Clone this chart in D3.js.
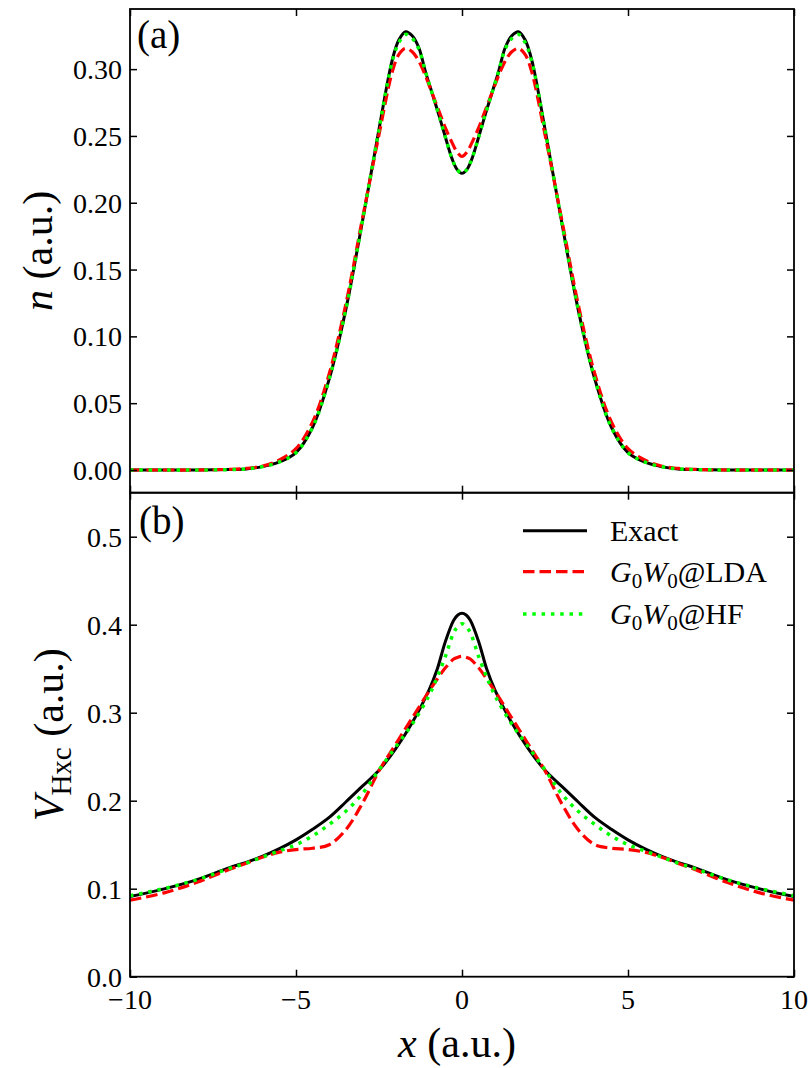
<!DOCTYPE html>
<html>
<head>
<meta charset="utf-8">
<script src="https://cdn.jsdelivr.net/npm/d3@7"></script>
<style>
  body { margin: 0; background: #fff; }
</style>
</head>
<body>
<svg id="fig" width="811" height="1068"></svg>
<script>
// ---- Density n(x), panel (a) ----
const xDensity = [-10, -9, -8, -7, -6.5, -6, -5.5, -5, -4.5, -4, -3.5, -3, -2.5, -2.1, -1.9, -1.7, -1.5, -1.3, -1.1, -0.9, -0.7, -0.5, -0.3, -0.15, 0,
                  0.15, 0.3, 0.5, 0.7, 0.9, 1.1, 1.3, 1.5, 1.7, 1.9, 2.1, 2.5, 3, 3.5, 4, 4.5, 5, 5.5, 6, 6.5, 7, 8, 9, 10];
const nExact = [0, 0, 0, 0.0003, 0.0008, 0.0025, 0.006, 0.013, 0.032, 0.068, 0.12, 0.186, 0.255, 0.307, 0.322, 0.328, 0.325, 0.316, 0.298, 0.282, 0.266, 0.249, 0.233, 0.225, 0.222,
                0.225, 0.233, 0.249, 0.266, 0.282, 0.298, 0.316, 0.325, 0.328, 0.322, 0.307, 0.255, 0.186, 0.12, 0.068, 0.032, 0.013, 0.006, 0.0025, 0.0008, 0.0003, 0, 0, 0];
const nLDA = [0, 0, 0, 0.0005, 0.0012, 0.003, 0.0075, 0.016, 0.036, 0.072, 0.124, 0.188, 0.251, 0.298, 0.311, 0.3155, 0.313, 0.306, 0.295, 0.282, 0.269, 0.256, 0.245, 0.238, 0.2346,
              0.238, 0.245, 0.256, 0.269, 0.282, 0.295, 0.306, 0.313, 0.3155, 0.311, 0.298, 0.251, 0.188, 0.124, 0.072, 0.036, 0.016, 0.0075, 0.003, 0.0012, 0.0005, 0, 0, 0];
const nHF = [0, 0, 0, 0.0003, 0.0008, 0.0025, 0.006, 0.013, 0.032, 0.068, 0.12, 0.186, 0.255, 0.306, 0.320, 0.326, 0.323, 0.315, 0.298, 0.282, 0.266, 0.249, 0.233, 0.225, 0.222,
             0.225, 0.233, 0.249, 0.266, 0.282, 0.298, 0.315, 0.323, 0.326, 0.320, 0.306, 0.255, 0.186, 0.12, 0.068, 0.032, 0.013, 0.006, 0.0025, 0.0008, 0.0003, 0, 0, 0];

// ---- Hartree-exchange-correlation potential, panel (b) ----
const xPot = [-10, -9, -8, -7, -6.5, -6, -5.5, -5, -4.5, -4, -3.5, -3, -2.5, -2, -1.5, -1, -0.75, -0.5, -0.25, -0.125, 0,
              0.125, 0.25, 0.5, 0.75, 1, 1.5, 2, 2.5, 3, 3.5, 4, 4.5, 5, 5.5, 6, 6.5, 7, 8, 9, 10];
const vExact = [0.091, 0.0995, 0.110, 0.124, 0.130, 0.137, 0.1455, 0.1555, 0.1675, 0.181, 0.1985, 0.2165, 0.2345, 0.259, 0.2885, 0.325, 0.349, 0.381, 0.405, 0.411, 0.413,
                0.411, 0.405, 0.381, 0.349, 0.325, 0.2885, 0.259, 0.2345, 0.2165, 0.1985, 0.181, 0.1675, 0.1555, 0.1455, 0.137, 0.130, 0.124, 0.110, 0.0995, 0.091];
const vLDA = [0.087, 0.095, 0.107, 0.122, 0.129, 0.136, 0.1415, 0.1445, 0.146, 0.150, 0.167, 0.197, 0.234, 0.264, 0.294, 0.324, 0.338, 0.351, 0.361, 0.363, 0.364,
              0.363, 0.361, 0.351, 0.338, 0.324, 0.294, 0.264, 0.234, 0.197, 0.167, 0.150, 0.146, 0.1445, 0.1415, 0.136, 0.129, 0.122, 0.107, 0.095, 0.087];
const vHF = [0.092, 0.100, 0.110, 0.123, 0.129, 0.136, 0.143, 0.150, 0.160, 0.173, 0.188, 0.208, 0.235, 0.261, 0.287, 0.319, 0.340, 0.364, 0.391, 0.398, 0.401,
             0.398, 0.391, 0.364, 0.340, 0.319, 0.287, 0.261, 0.235, 0.208, 0.188, 0.173, 0.160, 0.150, 0.143, 0.136, 0.129, 0.123, 0.110, 0.100, 0.092];

// ---- Ticks ----
const xTicks = [-10, -5, 0, 5, 10];
const nTicks = [0, 0.05, 0.10, 0.15, 0.20, 0.25, 0.30];
const vTicks = [0, 0.1, 0.2, 0.3, 0.4, 0.5];

const seriesNames = ["Exact", "G0W0@LDA", "G0W0@HF"];

// ---- Layout ----
const L = 130, R = 794, T = 9, M = 492.7, B = 976.7;
const FONT = '"Liberation Serif", "Times New Roman", serif';
const svg = d3.select("#fig");

const x = d3.scaleLinear().domain([-10, 10]).range([L, R]);
const yN = d3.scaleLinear().domain([-0.017, 0.345]).range([M, T]);
const yV = d3.scaleLinear().domain([0, 0.55]).range([B, M]);

const styles = [
  { color: "#000000", width: 3.0, dash: null },
  { color: "#ff0000", width: 3.2, dash: "11.5,5" },
  { color: "#00ff00", width: 3.5, dash: "3.5,5.8" }
];

const fmtMinus = s => s.replace("-", "\u2212");
const tickFont = 28;

function text(parent, size) {
  return parent.append("text").style("font-family", FONT).style("font-size", size + "px").attr("fill", "#000");
}

function drawPanel(yScale, top, bottom, ticks, tickFmt, series, xs, clipId) {
  svg.append("clipPath").attr("id", clipId)
    .append("rect").attr("x", L).attr("y", top).attr("width", R - L).attr("height", bottom - top);

  const g = svg.append("g").attr("clip-path", `url(#${clipId})`);
  series.forEach((vals, i) => {
    const pts = xs.map((xv, k) => [xv, vals[k]]);
    const line = d3.line().x(d => x(d[0])).y(d => yScale(d[1])).curve(d3.curveCatmullRom.alpha(0.5));
    const p = g.append("path").datum(pts).attr("d", line)
      .attr("fill", "none").attr("stroke", styles[i].color)
      .attr("stroke-width", styles[i].width).attr("stroke-linejoin", "round");
    if (styles[i].dash) p.attr("stroke-dasharray", styles[i].dash);
  });

  // inward ticks on all four sides
  const left = svg.append("g").attr("transform", `translate(${L},0)`)
    .call(d3.axisLeft(yScale).tickValues(ticks).tickFormat(tickFmt).tickSize(-7).tickPadding(8));
  const right = svg.append("g").attr("transform", `translate(${R},0)`)
    .call(d3.axisRight(yScale).tickValues(ticks).tickFormat("").tickSize(-7));
  const topAx = svg.append("g").attr("transform", `translate(0,${top})`)
    .call(d3.axisTop(x).tickValues(xTicks).tickFormat("").tickSize(-7));
  const botAx = svg.append("g").attr("transform", `translate(0,${bottom})`)
    .call(d3.axisBottom(x).tickValues(xTicks).tickFormat("").tickSize(-7));
  [left, right, topAx, botAx].forEach(a => {
    a.select(".domain").remove();
    a.selectAll(".tick line").attr("stroke", "#000").attr("stroke-width", 1.5);
  });
  left.selectAll(".tick text")
    .style("font-family", FONT).style("font-size", tickFont + "px").attr("dy", "0.34em");

  svg.append("rect").attr("x", L).attr("y", top).attr("width", R - L).attr("height", bottom - top)
    .attr("fill", "none").attr("stroke", "#000").attr("stroke-width", 1.8);
}

drawPanel(yN, T, M, nTicks, d3.format(".2f"), [nExact, nLDA, nHF], xDensity, "clipA");
drawPanel(yV, M, B, vTicks, d3.format(".1f"), [vExact, vLDA, vHF], xPot, "clipB");

// x tick labels under panel (b)
xTicks.forEach(d => {
  text(svg, tickFont).attr("x", x(d)).attr("y", 1009).attr("text-anchor", "middle").text(fmtMinus(String(d)));
});

// axis titles
const xl = text(svg, 42).attr("x", 457).attr("y", 1057).attr("text-anchor", "middle");
xl.append("tspan").style("font-style", "italic").text("x");
xl.append("tspan").text(" (a.u.)");

const nl = text(svg, 42).attr("transform", `translate(52,${(T + M) / 2}) rotate(-90)`).attr("text-anchor", "middle");
nl.append("tspan").style("font-style", "italic").text("n");
nl.append("tspan").text(" (a.u.)");

const vl = text(svg, 42).attr("transform", `translate(63,${(M + B) / 2}) rotate(-90)`).attr("text-anchor", "middle");
vl.append("tspan").style("font-style", "italic").text("V");
vl.append("tspan").style("font-size", "29px").attr("dy", 8).text("Hxc");
vl.append("tspan").attr("dy", -8).text(" (a.u.)");

// panel tags
text(svg, 39).attr("x", 137).attr("y", 48).text("(a)");
text(svg, 39).attr("x", 139).attr("y", 534).text("(b)");

// legend
const legY = [530.7, 571.7, 614];
const leg = svg.append("g");
seriesNames.forEach((name, i) => {
  const l = leg.append("line").attr("x1", 523).attr("x2", 587).attr("y1", legY[i]).attr("y2", legY[i])
    .attr("stroke", styles[i].color).attr("stroke-width", styles[i].width);
  if (styles[i].dash) l.attr("stroke-dasharray", styles[i].dash);
  const t = text(leg, 30).attr("x", 610).attr("y", legY[i] + 10);
  if (i === 0) {
    t.text(name);
  } else {
    const suffix = name.split("@")[1];
    t.append("tspan").style("font-style", "italic").text("G");
    t.append("tspan").style("font-size", "21px").attr("dy", 6).text("0");
    t.append("tspan").style("font-style", "italic").attr("dy", -6).text("W");
    t.append("tspan").style("font-size", "21px").attr("dy", 6).text("0");
    t.append("tspan").attr("dy", -6).text("@" + suffix);
  }
});
</script>
</body>
</html>
